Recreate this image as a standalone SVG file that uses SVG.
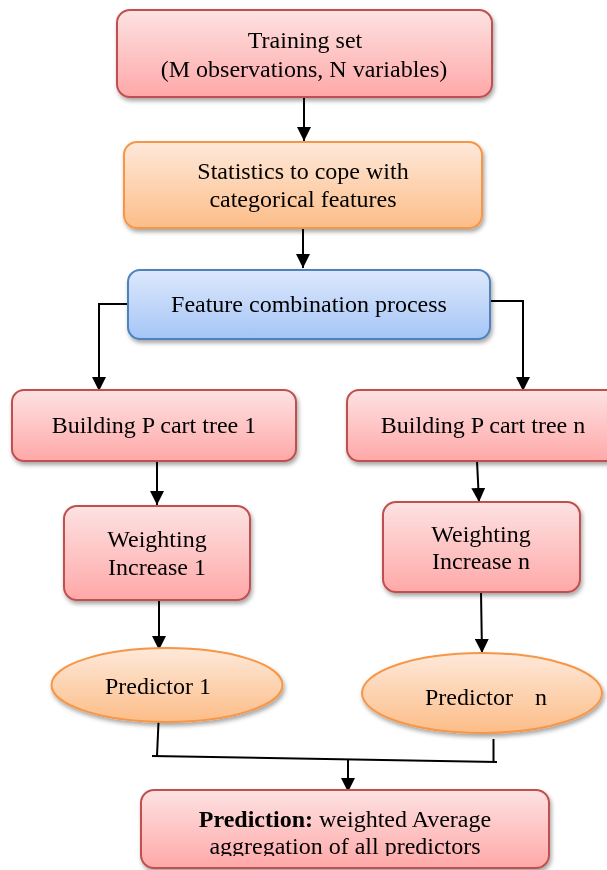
<svg xmlns="http://www.w3.org/2000/svg" width="607" height="870" viewBox="0 0 607 870">
<defs>
<linearGradient id="gRed" x1="0" y1="0" x2="0" y2="1"><stop offset="0" stop-color="#fde2e2"/><stop offset="1" stop-color="#ffa8a8"/></linearGradient>
<linearGradient id="gOrange" x1="0" y1="0" x2="0" y2="1"><stop offset="0" stop-color="#fee9da"/><stop offset="1" stop-color="#fcbd88"/></linearGradient>
<linearGradient id="gBlue" x1="0" y1="0" x2="0" y2="1"><stop offset="0" stop-color="#dde8fc"/><stop offset="1" stop-color="#a5c5f6"/></linearGradient>
<filter id="sh" x="-10%" y="-10%" width="125%" height="140%"><feDropShadow dx="1.5" dy="3" stdDeviation="2.2" flood-color="#000" flood-opacity="0.35"/></filter>
<marker id="arr" viewBox="0 0 10 10" refX="10" refY="5" markerWidth="14" markerHeight="14" markerUnits="userSpaceOnUse" orient="auto"><path d="M0,0 L10,5 L0,10 z" fill="#000"/></marker>
<clipPath id="clipBottom"><rect x="0" y="780" width="607" height="76"/></clipPath>
</defs>
<style>
.red{fill:url(#gRed);stroke:#c0504d;stroke-width:2}
.orange{fill:url(#gOrange);stroke:#f79646;stroke-width:2}
.blue{fill:url(#gBlue);stroke:#4f81bd;stroke-width:2}
.t{font-family:"Liberation Serif","Times New Roman",serif;font-size:24px;fill:#000;text-anchor:middle}
.c{fill:none;stroke:#000;stroke-width:2}
.a{fill:none;stroke:#000;stroke-width:2;marker-end:url(#arr)}
</style>
<g id="connectors">
<line class="a" x1="304" y1="97" x2="304" y2="141"/>
<line class="a" x1="303" y1="228" x2="303" y2="268"/>
<polyline class="a" points="128,304 99,304 99,391"/>
<polyline class="a" points="490,301 523,301 523,391"/>
<line class="a" x1="157" y1="462" x2="157" y2="505"/>
<line class="a" x1="477" y1="461" x2="479" y2="502"/>
<line class="a" x1="159" y1="601" x2="159" y2="650"/>
<line class="a" x1="481" y1="592" x2="482" y2="653"/>
<polyline class="c" points="158.5,722 157,756"/>
<polyline class="c" points="152,756 497,762"/>
<polyline class="c" points="493.5,739 493.5,762"/>
<line class="a" x1="348" y1="759" x2="348" y2="792"/>
</g>
<g id="n_training" filter="url(#sh)">
<rect class="red" x="117" y="10" width="375" height="87" rx="13"/>
<text class="t" x="305" y="48">Training set</text>
<text class="t" x="304" y="77">(M observations, N variables)</text>
</g>
<g id="n_statistics" filter="url(#sh)">
<rect class="orange" x="124" y="142" width="358" height="86" rx="13"/>
<text class="t" x="303" y="179">Statistics to cope with</text>
<text class="t" x="303" y="207">categorical features</text>
</g>
<g id="n_feature" filter="url(#sh)">
<rect class="blue" x="128" y="270" width="362" height="69" rx="12"/>
<text class="t" x="309" y="312">Feature combination process</text>
</g>
<g id="n_tree1" filter="url(#sh)">
<rect class="red" x="12" y="390" width="284" height="71" rx="12"/>
<text class="t" x="154" y="433">Building P cart tree 1</text>
</g>
<g id="n_treen" filter="url(#sh)">
<rect class="red" x="347" y="390" width="275" height="71" rx="12"/>
<text class="t" x="483" y="433">Building P cart tree n</text>
</g>
<g id="n_weight1" filter="url(#sh)">
<rect class="red" x="64" y="506" width="186" height="94" rx="13"/>
<text class="t" x="157" y="547">Weighting</text>
<text class="t" x="157" y="575">Increase  1</text>
</g>
<g id="n_weightn" filter="url(#sh)">
<rect class="red" x="383" y="502" width="197" height="90" rx="13"/>
<text class="t" x="481" y="542">Weighting</text>
<text class="t" x="481" y="569">Increase n</text>
</g>
<g id="n_pred1" filter="url(#sh)">
<ellipse class="orange" cx="167" cy="685" rx="115.5" ry="37"/>
<text class="t" x="158" y="694">Predictor 1</text>
</g>
<g id="n_predn" filter="url(#sh)">
<ellipse class="orange" cx="482" cy="693" rx="120" ry="40"/>
<text class="t" x="486" y="705"><tspan x="469">Predictor</tspan><tspan x="541">n</tspan></text>
</g>
<g id="n_prediction" filter="url(#sh)">
<rect class="red" x="141" y="790" width="408" height="78" rx="13"/>
<text class="t" x="345" y="827"><tspan font-weight="bold">Prediction:</tspan> weighted Average</text>
<text class="t" x="345" y="854" clip-path="url(#clipBottom)">aggregation of all predictors</text>
</g>
</svg>
